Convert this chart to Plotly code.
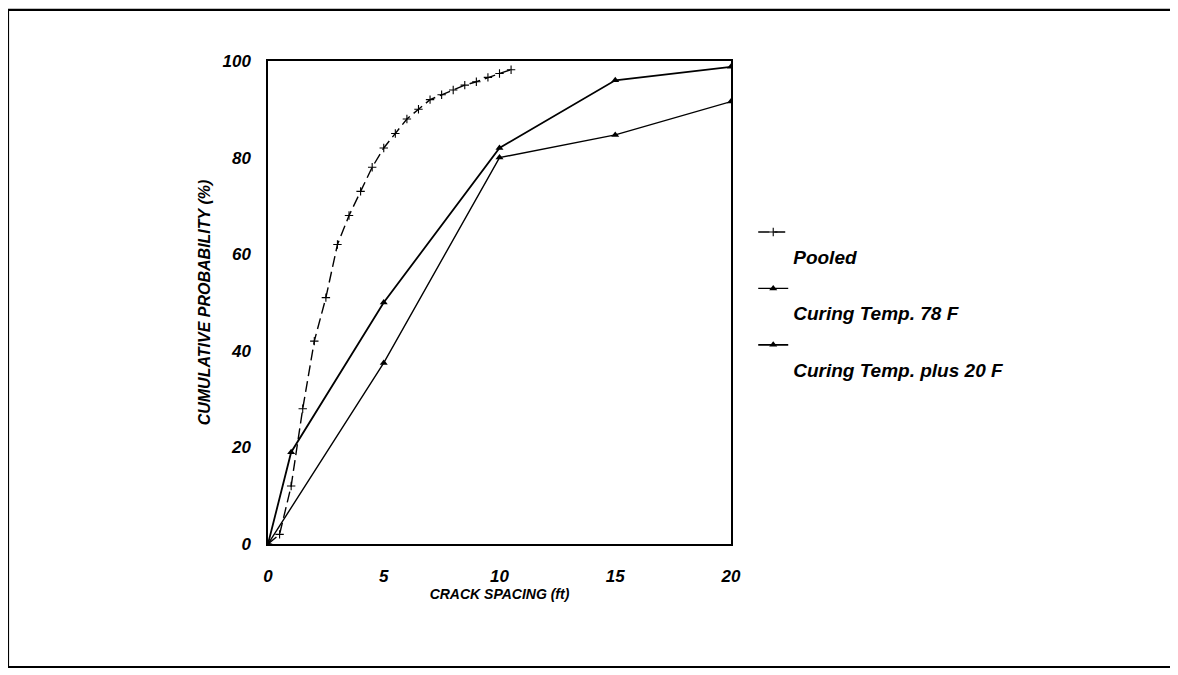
import plotly.graph_objects as go

# Pooled data (dashed, + markers)
pooled_x = [0, 0.5, 1.0, 1.5, 2.0, 2.5, 3.0, 3.5, 4.0, 4.5, 5.0, 5.5, 6.0, 6.5, 7.0,
            7.5, 8.0, 8.5, 9.0, 9.5, 10.0, 10.5]
pooled_y = [0, 2, 12, 28, 42, 51, 62, 68, 73, 78, 82, 85, 88, 90, 92,
            93, 94, 95, 95.7, 96.6, 97.4, 98.2]

# Curing Temp. 78 F
t78_x = [0, 5, 10, 15, 20]
t78_y = [0, 37.5, 80, 84.7, 91.6]

# Curing Temp. plus 20 F
t98_x = [0, 1, 5, 10, 15, 20]
t98_y = [0, 19, 50, 82, 96, 98.8]

x_ticks = [0, 5, 10, 15, 20]
y_ticks = [0, 20, 40, 60, 80, 100]

SANS = "Liberation Sans, Arial, Helvetica"

fig = go.Figure()
fig.add_trace(go.Scatter(
    x=pooled_x, y=pooled_y, mode="lines+markers", name="<br>Pooled", legendgroup="a",
    line=dict(color="black", width=1.4, dash="11px,5px"),
    marker=dict(symbol="cross-thin", size=6, line=dict(color="black", width=1.1)),
))
fig.add_trace(go.Scatter(
    x=t78_x, y=t78_y, mode="lines+markers", name="<br>Curing Temp. 78 F", legendgroup="b",
    line=dict(color="black", width=1.4),
    marker=dict(symbol="triangle-up", size=7, color="black"),
))
fig.add_trace(go.Scatter(
    x=t98_x, y=t98_y, mode="lines+markers", name="<br>Curing Temp. plus 20 F", legendgroup="c",
    line=dict(color="black", width=1.8),
    marker=dict(symbol="triangle-up", size=7, color="black"),
))

fig.update_layout(
    width=1170, height=667,
    margin=dict(l=260, r=447, t=53, b=131),
    paper_bgcolor="white", plot_bgcolor="white",
    font=dict(family=SANS, color="black"),
    legend=dict(
        x=1.048, y=0.685, xanchor="left", yanchor="top",
        valign="top", traceorder="grouped", tracegroupgap=4,
        font=dict(family=SANS, size=19, weight="bold", style="italic", color="black"),
        bgcolor="rgba(0,0,0,0)",
    ),
    shapes=[dict(
        type="rect", xref="paper", yref="paper",
        x0=-0.5616, x1=1.99, y0=-0.2547, y1=1.106,
        line=dict(color="black", width=2.2), fillcolor="rgba(0,0,0,0)", layer="below",
    )],
)

fig.update_xaxes(
    range=[0, 20], tickvals=x_ticks, ticktext=[str(v) for v in x_ticks],
    showgrid=False, zeroline=False, showline=True, linecolor="black", linewidth=1.5,
    mirror=True, ticks="", ticklabelstandoff=16,
    tickfont=dict(family=SANS, size=17, weight="bold", style="italic", color="black"),
    title=dict(text="CRACK SPACING (ft)", standoff=4,
               font=dict(family=SANS, size=14, weight="bold", style="italic", color="black")),
)
fig.update_yaxes(
    range=[0, 100], tickvals=y_ticks, ticktext=[str(v) for v in y_ticks],
    showgrid=False, zeroline=False, showline=True, linecolor="black", linewidth=1.5,
    mirror=True, ticks="", ticklabelstandoff=12,
    tickfont=dict(family=SANS, size=17, weight="bold", style="italic", color="black"),
    title=dict(text="CUMULATIVE PROBABILITY (%)", standoff=8,
               font=dict(family=SANS, size=16, weight="bold", style="italic", color="black")),
)

fig.write_html("out.html")
